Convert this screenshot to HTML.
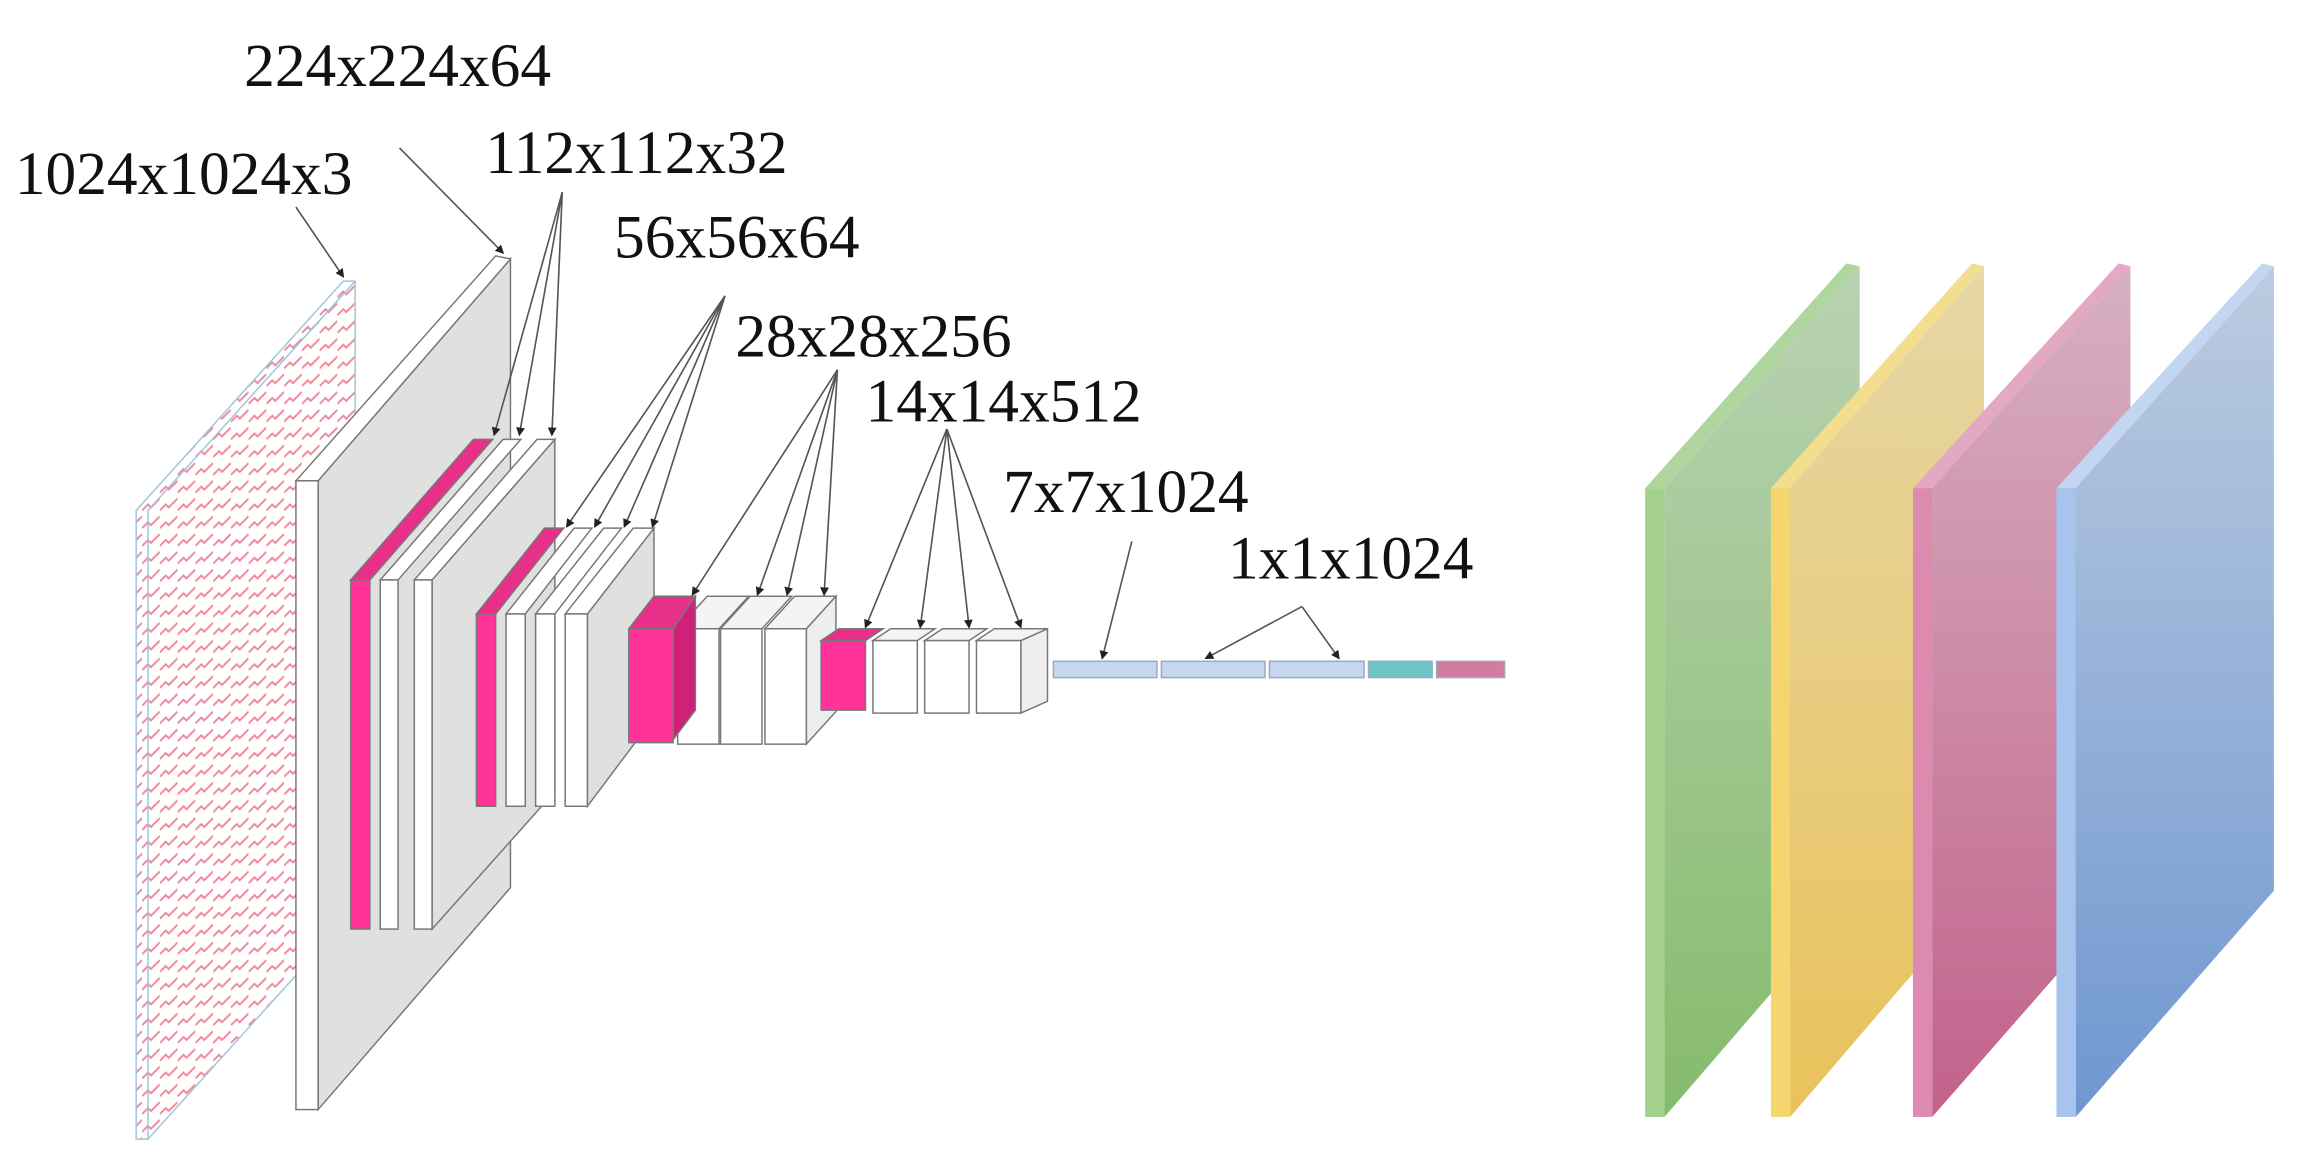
<!DOCTYPE html>
<html><head><meta charset="utf-8"><style>
html,body{margin:0;padding:0;background:#fff;}
svg{display:block;}
text{font-family:"Liberation Serif",serif;font-size:41.5px;fill:#111;}
</style></head><body>
<svg width="2308" height="1164" viewBox="0 0 1560 786.8" xmlns="http://www.w3.org/2000/svg">
<defs>
<pattern id="hatch" width="12" height="12" patternUnits="userSpaceOnUse">
<rect width="12" height="12" fill="#fff"/>
<path d="M0 9 L4 5 L6 7 L10 3 L12 1" stroke="#f08a9a" stroke-width="1.3" fill="none"/>
</pattern>
<marker id="ah" markerWidth="6" markerHeight="6" refX="5" refY="3" orient="auto" markerUnits="userSpaceOnUse"><path d="M0 0 L6 3 L0 6z" fill="#222"/></marker>
<linearGradient id="gG" x1="0" y1="0" x2="0" y2="1"><stop offset="0" stop-color="#b9d2b3"/><stop offset="1" stop-color="#85bb6c"/></linearGradient>
<linearGradient id="gY" x1="0" y1="0" x2="0" y2="1"><stop offset="0" stop-color="#e6d7a6"/><stop offset="1" stop-color="#e9c25a"/></linearGradient>
<linearGradient id="gP" x1="0" y1="0" x2="0" y2="1"><stop offset="0" stop-color="#d6b0c0"/><stop offset="1" stop-color="#c2628b"/></linearGradient>
<linearGradient id="gB" x1="0" y1="0" x2="0" y2="1"><stop offset="0" stop-color="#bccbe0"/><stop offset="1" stop-color="#6f97d0"/></linearGradient>
</defs>

<polygon points="92,345 232,190 240,190 240,615 100,770 92,770" fill="url(#hatch)" stroke="#9cc6dc" stroke-width="1"/>
<line x1="100" y1="345" x2="100" y2="770" stroke="#9cc6dc"/>
<line x1="100" y1="345" x2="240" y2="190" stroke="#9cc6dc"/>

<polygon points="215,325 345,175 345,600 215,750" fill="#e0e0e0" stroke="#777" stroke-width="1"/>
<polygon points="200,325 335,173 345,175 215,325" fill="#fff" stroke="#777" stroke-width="1"/>
<rect x="200" y="325" width="15" height="425" fill="#fff" stroke="#777" stroke-width="1"/>

<g stroke="#777" stroke-width="1">
<polygon points="292,392 375,297 375,535 292,628" fill="#e0e0e0"/>
<polygon points="280,392 363,297 375,297 292,392" fill="#fff"/>
<rect x="280" y="392" width="12" height="236" fill="#fff"/>
<polygon points="257,392 340,297 352,297 269,392" fill="#fff"/>
<rect x="257" y="392" width="12" height="236" fill="#fff"/>
<polygon points="237,392 320,297 333,297 250,392" fill="#e8308a"/>
<rect x="237" y="392" width="13" height="236" fill="#ff3399"/>
</g>

<g stroke="#777" stroke-width="1">
<polygon points="397,415 442,357 442,485 397,545" fill="#e0e0e0"/>
<polygon points="382,415 428,357 442,357 397,415" fill="#fff"/>
<rect x="382" y="415" width="15" height="130" fill="#fff"/>
<polygon points="362,415 408,357 420,357 375,415" fill="#fff"/>
<rect x="362" y="415" width="13" height="130" fill="#fff"/>
<polygon points="342,415 388,357 400,357 355,415" fill="#fff"/>
<rect x="342" y="415" width="13" height="130" fill="#fff"/>
<polygon points="322,415 368,357 381,357 335,415" fill="#e8308a"/>
<rect x="322" y="415" width="13" height="130" fill="#ff3399"/>
</g>

<g stroke="#777" stroke-width="1">
<polygon points="545,425 565,403 565,481 545,503" fill="#eee"/>
<polygon points="517,425 537,403 565,403 545,425" fill="#f4f4f4"/>
<rect x="517" y="425" width="28" height="78" fill="#fff"/>
<polygon points="487,425 507,403 535,403 515,425" fill="#f4f4f4"/>
<rect x="487" y="425" width="28" height="78" fill="#fff"/>
<polygon points="458,425 478,403 506,403 486,425" fill="#f4f4f4"/>
<rect x="458" y="425" width="28" height="78" fill="#fff"/>
<polygon points="455,425 470,403 470,480 455,500" fill="#d0207a"/>
<polygon points="425,425 442,403 470,403 455,425" fill="#e8308a"/>
<rect x="425" y="425" width="30" height="77" fill="#ff3399"/>
</g>

<g stroke="#777" stroke-width="1">
<polygon points="690,433 708,425 708,474 690,482" fill="#eee"/>
<polygon points="660,433 672,425 708,425 690,433" fill="#f4f4f4"/>
<rect x="660" y="433" width="30" height="49" fill="#fff"/>
<polygon points="625,433 637,425 667,425 655,433" fill="#f4f4f4"/>
<rect x="625" y="433" width="30" height="49" fill="#fff"/>
<polygon points="590,433 602,425 632,425 620,433" fill="#f4f4f4"/>
<rect x="590" y="433" width="30" height="49" fill="#fff"/>
<polygon points="555,433 567,425 597,425 585,433" fill="#e8308a"/>
<rect x="555" y="433" width="30" height="47" fill="#ff3399"/>
</g>

<g stroke="#9ab" stroke-width="1">
<rect x="712" y="447" width="70" height="11" fill="#c5d8f0"/>
<rect x="785" y="447" width="70" height="11" fill="#c5d8f0"/>
<rect x="858" y="447" width="64" height="11" fill="#c5d8f0"/>
<rect x="925" y="447" width="43" height="11" fill="#6cc4c4"/>
<rect x="971" y="447" width="46" height="11" fill="#d47ca0"/>
</g>

<g stroke="#555" stroke-width="1.1" fill="none" marker-end="url(#ah)">
<line x1="200" y1="140" x2="232" y2="187"/>
<line x1="270" y1="100" x2="340" y2="171"/>
<line x1="380" y1="130" x2="334" y2="294"/>
<line x1="380" y1="130" x2="351" y2="294"/>
<line x1="380" y1="130" x2="373" y2="294"/>
<line x1="490" y1="200" x2="383" y2="356"/>
<line x1="490" y1="200" x2="402" y2="356"/>
<line x1="490" y1="200" x2="422" y2="356"/>
<line x1="490" y1="200" x2="441" y2="356"/>
<line x1="566" y1="250" x2="468" y2="402"/>
<line x1="566" y1="250" x2="512" y2="402"/>
<line x1="566" y1="250" x2="532" y2="402"/>
<line x1="566" y1="250" x2="557" y2="402"/>
<line x1="640" y1="290" x2="585" y2="424"/>
<line x1="640" y1="290" x2="622" y2="424"/>
<line x1="640" y1="290" x2="655" y2="424"/>
<line x1="640" y1="290" x2="690" y2="424"/>
<line x1="765" y1="366" x2="745" y2="445"/>
<line x1="880" y1="410" x2="815" y2="445"/>
<line x1="880" y1="410" x2="905" y2="445"/>
</g>

<text x="165" y="58">224x224x64</text>
<text x="10" y="131">1024x1024x3</text>
<text x="328" y="117">112x112x32</text>
<text x="415" y="174">56x56x64</text>
<text x="497" y="241">28x28x256</text>
<text x="585" y="285">14x14x512</text>
<text x="678" y="346">7x7x1024</text>
<text x="830" y="391">1x1x1024</text>

<g>
<polygon points="1125,330 1257,180 1257,602 1125,755" fill="url(#gG)"/>
<polygon points="1112,330 1248,178 1257,180 1125,330" fill="#b0d6a0"/>
<rect x="1112" y="330" width="13" height="425" fill="#a3d08a"/>

<polygon points="1210,330 1341,180 1341,602 1210,755" fill="url(#gY)"/>
<polygon points="1197,330 1333,178 1341,180 1210,330" fill="#f2de8e"/>
<rect x="1197" y="330" width="13" height="425" fill="#f6d56e"/>

<polygon points="1306,330 1440,180 1440,602 1306,755" fill="url(#gP)"/>
<polygon points="1293,330 1432,178 1440,180 1306,330" fill="#e2a8c4"/>
<rect x="1293" y="330" width="13" height="425" fill="#dc8ab0"/>

<polygon points="1403,330 1537,180 1537,602 1403,755" fill="url(#gB)"/>
<polygon points="1390,330 1529,178 1537,180 1403,330" fill="#c2d6f2"/>
<rect x="1390" y="330" width="13" height="425" fill="#a6c4ee"/>
</g>
</svg>
</body></html>
